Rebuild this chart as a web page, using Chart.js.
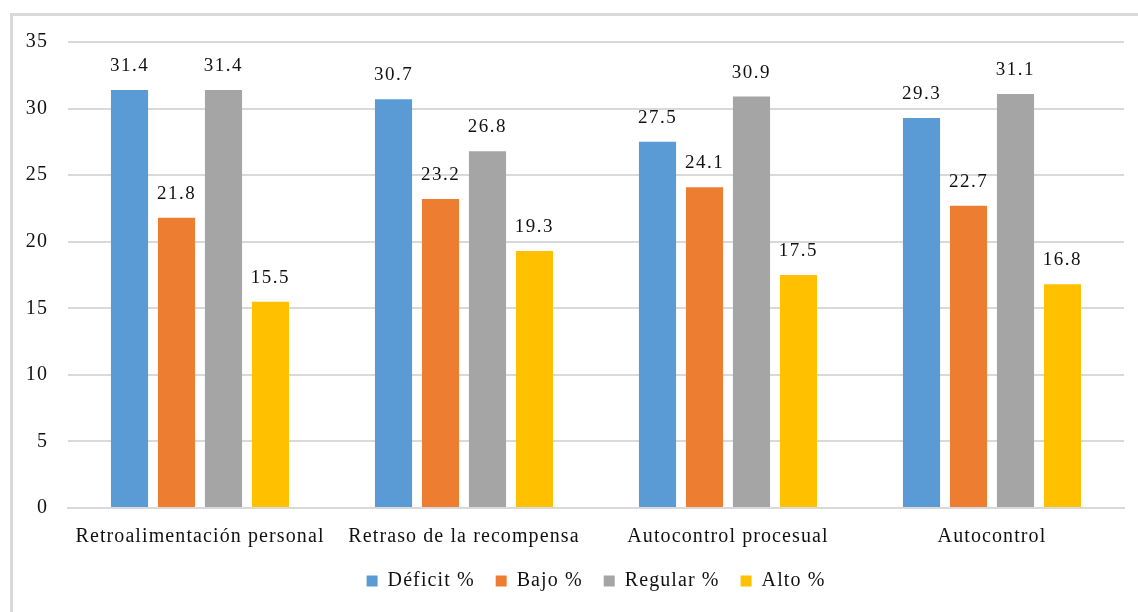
<!DOCTYPE html>
<html>
<head>
<meta charset="utf-8">
<script src="https://cdn.jsdelivr.net/npm/chart.js@4"></script>
<style>
  html, body { margin: 0; padding: 0; background: #fff; overflow: hidden; }
  #frame { position: absolute; left: 10px; top: 13px; width: 1200px; height: 700px;
           border-left: 3px solid #d9d9d9; border-top: 3px solid #d9d9d9; }
  #wrap { position: absolute; left: 0; top: 0; width: 1138px; height: 612px; }
</style>
</head>
<body>
<div id="frame"></div>
<div id="wrap"><canvas id="chart" width="1138" height="612"></canvas></div>
<script>
// Data
const categories = ['Retroalimentación personal', 'Retraso de la recompensa', 'Autocontrol procesual', 'Autocontrol'];
const deficit = [31.4, 30.7, 27.5, 29.3];
const bajo = [21.8, 23.2, 24.1, 22.7];
const regular = [31.4, 26.8, 30.9, 31.1];
const alto = [15.5, 19.3, 17.5, 16.8];
const seriesNames = ['Déficit %', 'Bajo %', 'Regular %', 'Alto %'];
const seriesColors = ['#5B9BD5', '#ED7D31', '#A5A5A5', '#FFC000'];
const yTicks = [0, 5, 10, 15, 20, 25, 30, 35];

const serif = '"Liberation Serif", "Times New Roman", serif';

// the reference text is slightly spread out
const spacing = {
  id: 'spacing',
  beforeUpdate(chart) { chart.ctx.letterSpacing = '1.1px'; },
  beforeDraw(chart) { chart.ctx.letterSpacing = '1.1px'; }
};

// Value labels above each bar
const valueLabels = {
  id: 'valueLabels',
  afterDatasetsDraw(chart) {
    const ctx = chart.ctx;
    ctx.save();
    ctx.letterSpacing = '1.5px';
    ctx.font = '19px ' + serif;
    ctx.fillStyle = '#111';
    ctx.textAlign = 'center';
    ctx.textBaseline = 'alphabetic';
    chart.data.datasets.forEach((ds, i) => {
      chart.getDatasetMeta(i).data.forEach((bar, j) => {
        ctx.fillText(ds.data[j].toFixed(1), bar.x, bar.y - 19);
      });
    });
    ctx.restore();
  }
};

const allSeries = [deficit, bajo, regular, alto];

new Chart(document.getElementById('chart'), {
  type: 'bar',
  data: {
    labels: categories,
    datasets: allSeries.map((values, i) => ({
      label: seriesNames[i],
      data: values,
      backgroundColor: seriesColors[i],
      borderWidth: 0,
      categoryPercentage: 0.712,
      barPercentage: 0.79
    }))
  },
  options: {
    responsive: false,
    animation: false,
    layout: { padding: { left: 10, right: 14, top: 42, bottom: 11 } },
    plugins: {
      legend: {
        position: 'bottom',
        fullSize: false,
        labels: {
          boxWidth: 11, boxHeight: 11, padding: 21,
          color: '#111',
          font: { family: serif, size: 20 }
        }
      },
      tooltip: { enabled: false }
    },
    scales: {
      x: {
        // tick padding is counted twice in the fit; keep only the space the labels use
        afterFit(scale) { scale.height = 42; },
        grid: { display: false, drawTicks: false },
        border: { color: '#d9d9d9', width: 2 },
        ticks: { color: '#111', padding: 17, font: { family: serif, size: 20 }, maxRotation: 0 }
      },
      y: {
        min: 0, max: 35,
        afterFit(scale) { scale.width = 58; },
        afterBuildTicks(scale) { scale.ticks = yTicks.map(v => ({ value: v })); },
        grid: { color: '#d9d9d9', lineWidth: 2, drawTicks: false },
        border: { display: false },
        ticks: { color: '#111', padding: 20, font: { family: serif, size: 20 } }
      }
    }
  },
  plugins: [spacing, valueLabels]
});
</script>
</body>
</html>
